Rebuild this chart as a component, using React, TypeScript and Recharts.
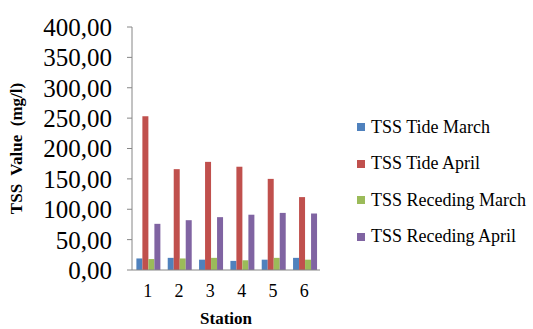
import { BarChart, Bar, XAxis, YAxis } from 'recharts';

const stations = ['1', '2', '3', '4', '5', '6'];
const tideMarch = [19, 20, 17, 15, 17, 20];
const tideApril = [253, 166, 178, 170, 150, 120];
const recedingMarch = [18, 19, 20, 16, 20, 17];
const recedingApril = [76, 82, 87, 91, 94, 93];
const yTicks = [0, 50, 100, 150, 200, 250, 300, 350, 400];

const series = [
  { key: 'tideMarch', name: 'TSS Tide March', color: '#4F81BD' },
  { key: 'tideApril', name: 'TSS Tide April', color: '#C0504D' },
  { key: 'recedingMarch', name: 'TSS Receding March', color: '#9BBB59' },
  { key: 'recedingApril', name: 'TSS Receding April', color: '#8064A2' },
];

const data = stations.map((s, i) => ({
  station: s,
  tideMarch: tideMarch[i],
  tideApril: tideApril[i],
  recedingMarch: recedingMarch[i],
  recedingApril: recedingApril[i],
}));

const font = '"Liberation Serif", "Times New Roman", serif';

// legend drawn as plain html on top so it doesn't eat plot space
const LegendBox = () => (
  <div
    style={{
      position: 'absolute',
      left: 357,
      top: 109,
      fontFamily: font,
      fontSize: 18,
      color: '#000',
    }}
  >
    {series.map((s) => (
      <div
        key={s.key}
        style={{ display: 'flex', alignItems: 'center', height: 36.5, whiteSpace: 'nowrap' }}
      >
        <span
          style={{ width: 8, height: 8, background: s.color, display: 'inline-block', marginRight: 6 }}
        />
        <span>{s.name}</span>
      </div>
    ))}
  </div>
);

const App = () => {
  return (
    <div style={{ position: 'absolute', left: 0, top: 0, width: 533, height: 329, background: '#fff' }}>
      <BarChart
        width={533}
        height={329}
        data={data}
        margin={{ top: 27, right: 213, bottom: 2, left: 0 }}
        barCategoryGap="14%"
        barGap={0}
      >
        <XAxis
          dataKey="station"
          height={57}
          tickLine={false}
          tickSize={0}
          tickMargin={14}
          axisLine={{ stroke: '#868686' }}
          tick={{ fill: '#000', fontFamily: font, fontSize: 18 }}
          label={{
            value: 'Station',
            position: 'insideBottom',
            offset: 3,
            style: { fontFamily: font, fontSize: 17, fontWeight: 'bold', fill: '#000' },
          }}
        />
        <YAxis
          width={132}
          domain={[0, 400]}
          ticks={yTicks}
          interval={0}
          tickSize={5}
          tickMargin={15}
          axisLine={{ stroke: '#868686' }}
          tickLine={{ stroke: '#868686' }}
          tickFormatter={(v: number) => v.toFixed(2).replace('.', ',')}
          tick={{ fill: '#000', fontFamily: font, fontSize: 25 }}
          label={{
            value: 'TSS\u00a0 Value\u00a0 (mg/l)',
            angle: -90,
            position: 'insideLeft',
            offset: 16,
            style: {
              textAnchor: 'middle',
              fontFamily: font,
              fontSize: 17,
              fontWeight: 'bold',
              fill: '#000',
            },
          }}
        />
        {series.map((s) => (
          <Bar
            key={s.key}
            dataKey={s.key}
            name={s.name}
            fill={s.color}
            isAnimationActive={false}
          />
        ))}
      </BarChart>
      <LegendBox />
    </div>
  );
};

export default App;
